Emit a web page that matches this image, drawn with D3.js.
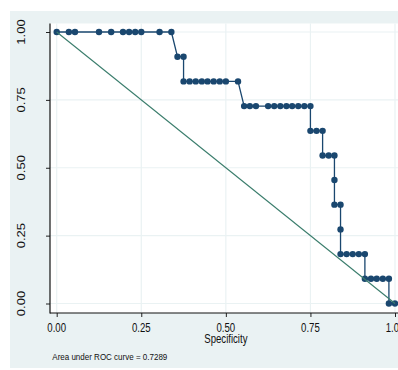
<!DOCTYPE html>
<html>
<head>
<meta charset="utf-8">
<script src="https://cdn.jsdelivr.net/npm/d3@7"></script>
<style>
  body { margin: 0; background: #fff; }
  text { font-family: "Liberation Sans", Arial, sans-serif; fill: #111; }
</style>
</head>
<body>
<script>
//------------ DATA ----------------------
// ROC points (x = specificity axis, y = sensitivity)
var specValues = [0, 0.036, 0.054, 0.125, 0.161, 0.196, 0.214, 0.232, 0.250, 0.304, 0.339,
    0.357, 0.375,
    0.375, 0.393, 0.411, 0.429, 0.446, 0.464, 0.482, 0.500, 0.536,
    0.554, 0.571, 0.589, 0.625, 0.643, 0.661, 0.679, 0.696, 0.714, 0.732, 0.750,
    0.750, 0.768, 0.786,
    0.786, 0.804, 0.821,
    0.821,
    0.821, 0.839,
    0.839,
    0.839, 0.857, 0.875, 0.893, 0.911,
    0.911, 0.929, 0.946, 0.964, 0.982,
    0.982, 1];
var sensValues = [1, 1, 1, 1, 1, 1, 1, 1, 1, 1, 1,
    0.909, 0.909,
    0.818, 0.818, 0.818, 0.818, 0.818, 0.818, 0.818, 0.818, 0.818,
    0.727, 0.727, 0.727, 0.727, 0.727, 0.727, 0.727, 0.727, 0.727, 0.727, 0.727,
    0.636, 0.636, 0.636,
    0.545, 0.545, 0.545,
    0.455,
    0.364, 0.364,
    0.273,
    0.182, 0.182, 0.182, 0.182, 0.182,
    0.091, 0.091, 0.091, 0.091, 0.091,
    0, 0];
var tickValues = [0, 0.25, 0.5, 0.75, 1];
var tickLabels = ["0.00", "0.25", "0.50", "0.75", "1.00"];
var xTitle = "Specificity";
var noteText = "Area under ROC curve = 0.7289";
//----------------------------------------

const width = 398,
    height = 370;

var navy = "#1a476f",
    refColor = "#3a7d6c",
    bgColor = "#eaf2f3",
    squish = 0.74;   // the picture is narrower than it is tall, text looks condensed

//-----------SET UP SVG -------------------
var svg = d3.select("body").append("svg")
    .attr("width", width)
    .attr("height", height);

// outer graph region
svg.append("rect")
    .attr("x", 10).attr("y", 11)
    .attr("width", width - 10).attr("height", 357)
    .attr("fill", bgColor);

// plot region
var plotLeft = 50, plotTop = 23.5, plotBottom = 313;
svg.append("rect")
    .attr("x", plotLeft).attr("y", plotTop)
    .attr("width", width - plotLeft).attr("height", plotBottom - plotTop)
    .attr("fill", "#fff");

//------------SCALES ----------------------
var x = d3.scaleLinear().domain([0, 1]).range([56.7, 395]);
var y = d3.scaleLinear().domain([0, 1]).range([303.5, 32]);

//------------GRID ----------------------
svg.append("g").selectAll("line")
    .data(tickValues)
    .join("line")
    .attr("x1", plotLeft).attr("x2", width)
    .attr("y1", d => y(d)).attr("y2", d => y(d))
    .attr("stroke", bgColor).attr("stroke-width", 1.2);

svg.append("g").selectAll("line")
    .data(tickValues)
    .join("line")
    .attr("x1", d => x(d)).attr("x2", d => x(d))
    .attr("y1", plotTop).attr("y2", plotBottom)
    .attr("stroke", bgColor).attr("stroke-width", 1.2);

//------------AXES ----------------------
var yAxis = d3.axisLeft(y).tickValues(tickValues).tickSize(4).tickFormat("");
var xAxis = d3.axisBottom(x).tickValues(tickValues).tickSize(4).tickFormat("");

var gy = svg.append("g").attr("transform", "translate(" + plotLeft + ",0)").call(yAxis);
gy.select(".domain").remove();
var gx = svg.append("g").attr("transform", "translate(0," + plotBottom + ")").call(xAxis);
gx.select(".domain").remove();
svg.selectAll(".tick line").attr("stroke", "#222");

svg.append("line")
    .attr("x1", plotLeft).attr("x2", plotLeft)
    .attr("y1", plotTop).attr("y2", plotBottom + 0.5)
    .attr("stroke", "#111").attr("stroke-width", 1.2);
svg.append("line")
    .attr("x1", plotLeft).attr("x2", width)
    .attr("y1", plotBottom).attr("y2", plotBottom)
    .attr("stroke", "#111").attr("stroke-width", 1.2);

// y tick labels, rotated
svg.append("g").selectAll("text")
    .data(tickValues)
    .join("text")
    .attr("transform", d => "translate(25,"  + y(d) + ") scale(0.88,1) rotate(-90)")
    .attr("text-anchor", "middle")
    .attr("font-size", 13)
    .text((d, i) => tickLabels[i]);

// x tick labels
svg.append("g").selectAll("text")
    .data(tickValues)
    .join("text")
    .attr("transform", d => "translate(" + x(d) + ",332) scale(" + squish + ",1)")
    .attr("text-anchor", "middle")
    .attr("font-size", 13)
    .text((d, i) => tickLabels[i]);

// axis title
svg.append("text")
    .attr("transform", "translate(" + x(0.5) + ",343) scale(" + squish + ",1)")
    .attr("text-anchor", "middle")
    .attr("font-size", 13)
    .text(xTitle);

// note (stretched to the width it has in the picture)
svg.append("text")
    .attr("x", 52.3)
    .attr("y", 359.5)
    .attr("font-size", 8.6)
    .attr("textLength", 115)
    .attr("lengthAdjust", "spacingAndGlyphs")
    .text(noteText);

//------------ROC CURVE ----------------------
var points = specValues.map((s, i) => [s, sensValues[i]]);

svg.append("path")
    .datum(points)
    .attr("d", d3.line().x(d => x(d[0])).y(d => y(d[1])))
    .attr("fill", "none")
    .attr("stroke", navy)
    .attr("stroke-width", 1.3);

svg.append("g").selectAll("circle")
    .data(points)
    .join("circle")
    .attr("cx", d => x(d[0]))
    .attr("cy", d => y(d[1]))
    .attr("r", 3.2)
    .attr("fill", navy);

// reference line
svg.append("path")
    .datum([[0, 1], [1, 0]])
    .attr("d", d3.line().x(d => x(d[0])).y(d => y(d[1])))
    .attr("stroke", refColor)
    .attr("stroke-width", 1.1);
</script>
</body>
</html>
